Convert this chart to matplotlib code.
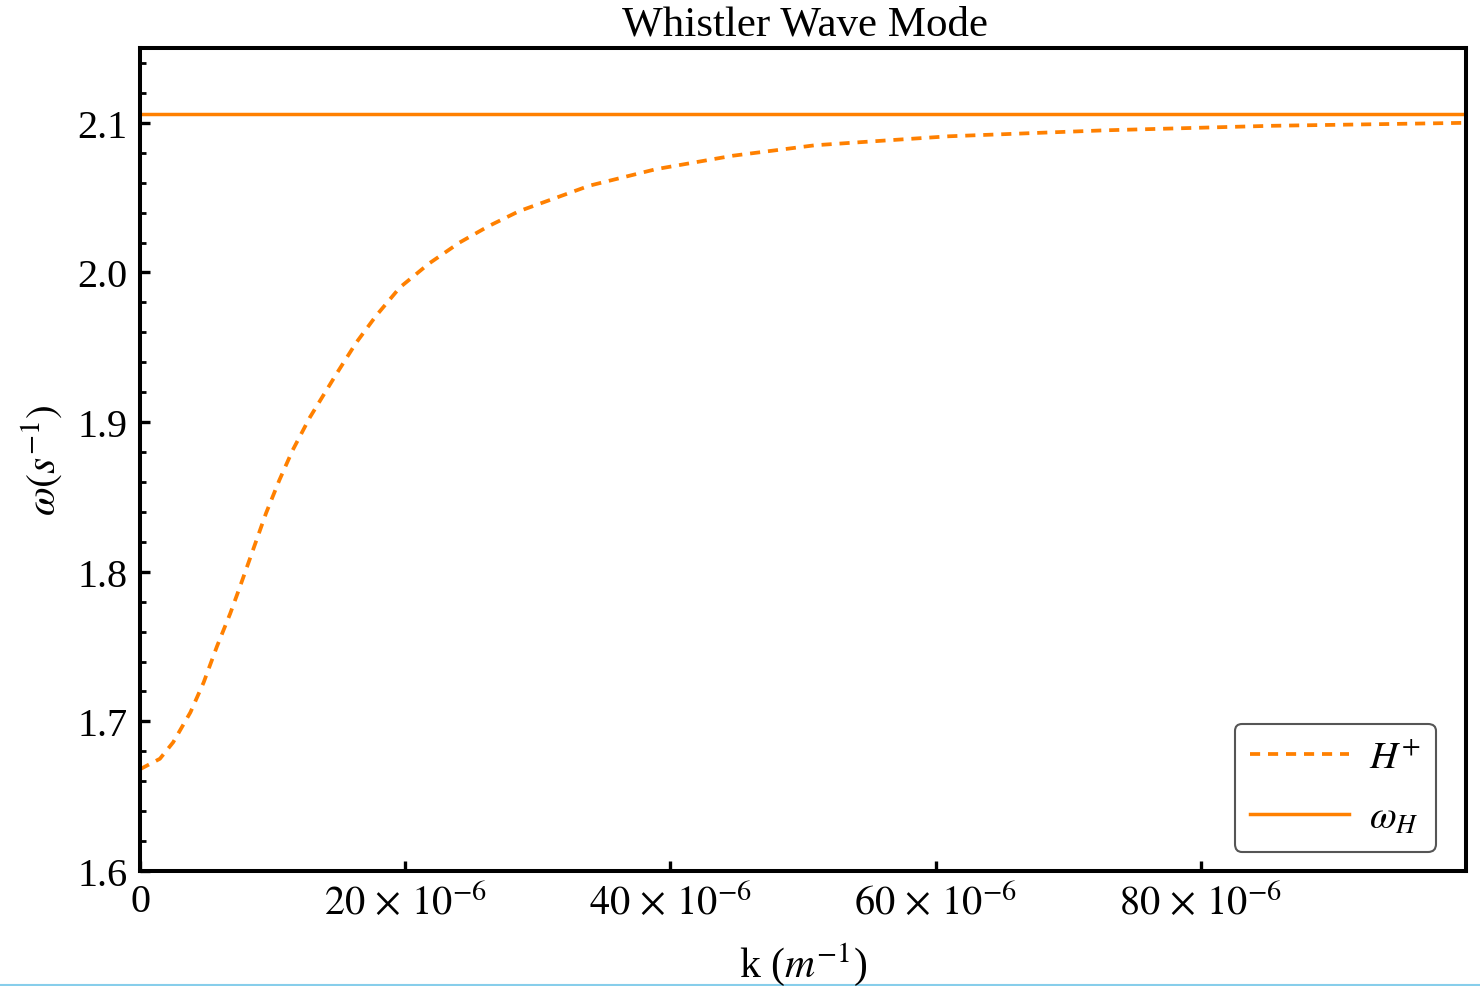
import matplotlib
matplotlib.use("Agg")
import matplotlib.pyplot as plt
from matplotlib.lines import Line2D
import numpy as np

plt.rcParams['font.family'] = ['Liberation Serif', 'DejaVu Serif']
plt.rcParams['mathtext.fontset'] = 'stix'

# dispersion curve for H+ (k in units of 1e-6 m^-1, omega in s^-1)
k_micro = [0, 1.5, 2.5, 3.8, 4.8, 5.8, 6.8, 7.5, 8.5, 9.5, 10.5, 11.5, 12.8,
           14.8, 16.3, 17.8, 19.6, 21.8, 24.1, 26.3, 28.6, 33.9, 38.9, 44.7,
           50.9, 55.9, 61.0, 72.8, 85.3, 100.0]
omega_h_plus = [1.668, 1.675, 1.686, 1.706, 1.726, 1.750, 1.772, 1.789, 1.814,
                1.839, 1.861, 1.881, 1.903, 1.932, 1.953, 1.971, 1.990, 2.006,
                2.020, 2.031, 2.041, 2.058, 2.069, 2.078, 2.085, 2.088, 2.091,
                2.095, 2.098, 2.100]
omega_H = 2.106  # proton cyclotron frequency

xtick_vals = [0, 20e-6, 40e-6, 60e-6, 80e-6]
xtick_labels = ['0', r'$20\,\times\,10^{-6}$', r'$40\,\times\,10^{-6}$',
                r'$60\,\times\,10^{-6}$', r'$80\,\times\,10^{-6}$']
ytick_vals = [1.6, 1.7, 1.8, 1.9, 2.0, 2.1]

k = np.array(k_micro) * 1e-6
orange = '#ff8000'

fig = plt.figure(figsize=(14.8, 9.87), dpi=100)
ax = fig.add_axes([140/1480, 1 - 872/987, 1326/1480, 823/987])

ax.plot(k, omega_h_plus, color=orange, lw=2.7, dashes=(2.7, 2.1), label=r'$H^{+}$')
ax.axhline(omega_H, color=orange, lw=2.5, label=r'$\omega_H$')

ax.set_xlim(0, 100e-6)
ax.set_ylim(1.6, 2.15)

ax.set_xticks(xtick_vals)
ax.set_xticklabels(xtick_labels)
ax.set_yticks(ytick_vals)
ax.set_yticklabels([f'{v:.1f}' for v in ytick_vals])
ax.set_yticks(np.arange(1.62, 2.15, 0.02), minor=True)

ax.tick_params(axis='both', which='major', direction='in', length=7, width=2.4,
               labelsize=29, pad=9)
ax.tick_params(axis='y', which='minor', direction='in', length=4.5, width=2.0)
ax.tick_params(top=False, right=False)
for s in ax.spines.values():
    s.set_linewidth(2.9)

fig.text(805/1480, 1 - 25/987, 'Whistler Wave Mode', ha='center', va='center',
         fontsize=31)
fig.text(803/1480, 1 - 965/987, 'k (' + r'$m^{-1}$' + ')', ha='center',
         va='center', fontsize=30)
fig.text(42/1480, 1 - 460/987, r'$\omega(s^{-1})$', ha='center', va='center',
         rotation=90, fontsize=30)

leg = ax.legend(loc='lower right', bbox_to_anchor=(1436/1480, 1 - 853/987),
                bbox_transform=fig.transFigure, borderaxespad=0, fontsize=28,
                handlelength=2.55, handletextpad=0.5, labelspacing=0.6,
                borderpad=0.4, fancybox=True, framealpha=1)
leg.get_frame().set_edgecolor('#555555')
leg.get_frame().set_linewidth(1.5)

# thin blue rule along the bottom edge
fig.add_artist(Line2D([0, 1], [1 - 985.5/987] * 2, transform=fig.transFigure,
                      color='#87ceeb', lw=1.5))

fig.savefig('out.png', dpi=100)
